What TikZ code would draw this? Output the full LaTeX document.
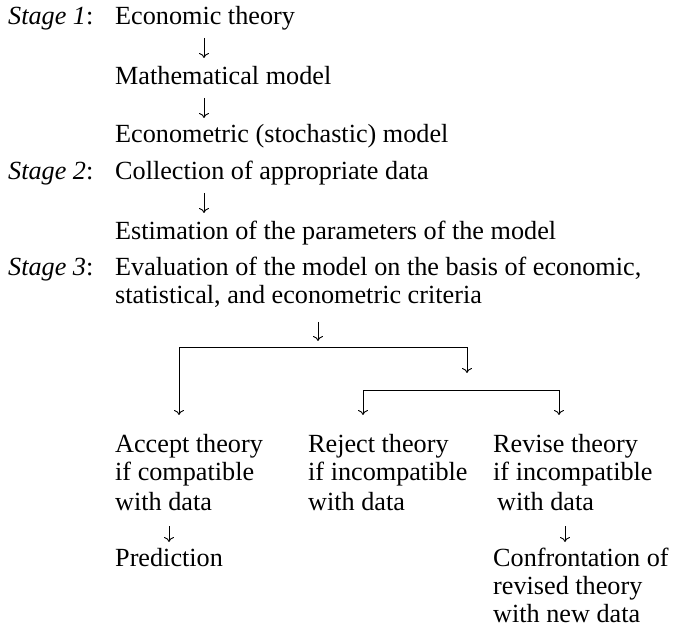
\documentclass[tikz,border=0pt]{standalone}
\usepackage{fontspec}
\setmainfont{Liberation Serif}
\usetikzlibrary{arrows.meta,calc}
\begin{document}
\begin{tikzpicture}[x=1pt,y=1pt,
  txt/.style={anchor=base west, inner sep=0pt, font=\fontsize{26.2}{28.5}\selectfont},
  stg/.style={txt},
  arr/.style={line width=0.9pt, -{To[length=5pt,width=10pt]}},
  barr/.style={line width=0.9pt, {To[length=5pt,width=10pt]}-{To[length=5pt,width=10pt]}}]
\useasboundingbox (0,0) rectangle (673,-631);
% stage labels
\node[stg] (s1) at (8,-25) {\itshape Stage 1\upshape:};
\node[stg] (s2) at (8,-180) {\itshape Stage 2\upshape:};
\node[stg] (s3) at (8,-276) {\itshape Stage 3\upshape:};
% main column
\node[txt] (t1) at (115,-25) {Economic theory};
\node[txt] (t2) at (115,-85) {Mathematical model};
\node[txt] (t3) at (115,-143) {Econometric (stochastic) model};
\node[txt] (t4) at (115,-180) {Collection of appropriate data};
\node[txt] (t5) at (115,-240) {Estimation of the parameters of the model};
\node[txt] (t6) at (115,-276) {Evaluation of the model on the basis of economic,};
\node[txt] (t6b) at (115,-304) {statistical, and econometric criteria};
% outcomes
\node[txt] (a1) at (115,-453) {Accept theory};
\node[txt] (a2) at (115,-481) {if compatible};
\node[txt] (a3) at (115,-510) {with data};
\node[txt] (p1) at (115,-566) {Prediction};
\node[txt] (r1) at (308,-453) {Reject theory};
\node[txt] (r2) at (308,-481) {if incompatible};
\node[txt] (r3) at (308,-510) {with data};
\node[txt] (v1) at (493,-453) {Revise theory};
\node[txt] (v2) at (493,-481) {if incompatible};
\node[txt] (v3) at (497,-510) {with data};
\node[txt] (c1) at (493,-566) {Confrontation of};
\node[txt] (c2) at (493,-594) {revised theory};
\node[txt] (c3) at (493,-622) {with new data};
% x positions of connectors
\coordinate (ax) at (204,0);
\coordinate (cx) at (318,0);
\coordinate (lx) at (179,0);
\coordinate (rx) at (467,0);
\coordinate (mx) at (363,0);
\coordinate (nx) at (559,0);
\coordinate (px) at (169,0);
\coordinate (qx) at (565,0);
% vertical arrows
\draw[arr] ($(t1.base -| ax)+(0,-13)$) -- ($(t2.base -| ax)+(0,27)$);
\draw[arr] ($(t2.base -| ax)+(0,-13)$) -- ($(t3.base -| ax)+(0,25)$);
\draw[arr] ($(t4.base -| ax)+(0,-13)$) -- ($(t5.base -| ax)+(0,27)$);
\draw[arr] ($(t6b.base -| cx)+(0,-18)$) -- ($(t6b.base -| cx)+(0,-37)$);
% brackets
\draw[barr] ($(a1.base -| lx)+(0,38)$) -- ($(t6b.base -| lx)+(0,-43)$)
  -- ($(t6b.base -| rx)+(0,-43)$) -- ($(t6b.base -| rx)+(0,-69)$);
\draw[barr] ($(r1.base -| mx)+(0,38)$) -- ($(r1.base -| mx)+(0,63)$)
  -- ($(v1.base -| nx)+(0,63)$) -- ($(v1.base -| nx)+(0,38)$);
\draw[arr] ($(a3.base -| px)+(0,-16)$) -- ($(p1.base -| px)+(0,24)$);
\draw[arr] ($(v3.base -| qx)+(0,-16)$) -- ($(c1.base -| qx)+(0,24)$);
\end{tikzpicture}
\end{document}
